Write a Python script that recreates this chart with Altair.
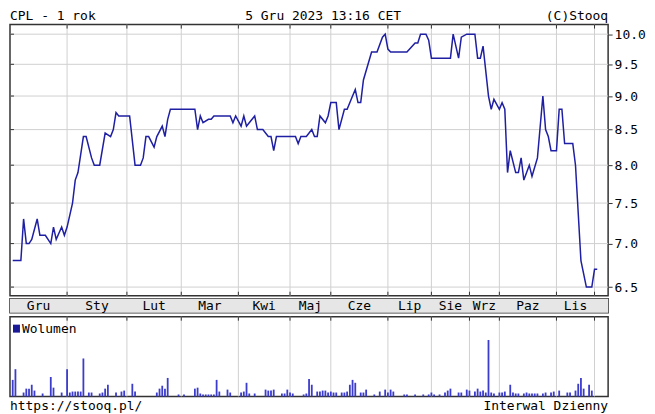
import altair as alt
import pandas as pd

# ---- texts ----
header_left = "CPL - 1 rok"
header_mid = "5 Gru 2023 13:16 CET"
header_right = "(C)Stooq"
footer_left = "https://stooq.pl/"
footer_right = "Interwal Dzienny"
legend_label = "Wolumen"

# ---- price series (session index of trading days, close price) ----
sessions = [0, 3, 4, 5, 6, 7, 9, 10, 12, 14, 15, 16, 18, 19, 20, 22, 23, 24, 26, 27,
            29, 30, 32, 34, 36, 37, 38, 39, 43, 45, 47, 48, 49, 50, 52, 53, 55, 56, 57, 58,
            67, 68, 69, 70, 72, 73, 74, 80, 81, 82, 84, 85, 86, 87, 89, 90, 92, 94, 95, 96,
            97, 104, 105, 106, 108, 110, 111, 112, 113, 115, 116, 117, 119, 120, 122, 123, 125, 126, 127, 128,
            129, 132, 134, 136, 137, 138, 139, 145, 146, 148, 149, 150, 152, 153, 154, 161, 162, 164, 165, 167,
            170, 171, 172, 173, 175, 176, 177, 179, 180, 181, 182, 183, 185, 186, 187, 188, 190, 191, 193, 195,
            196, 197, 198, 200, 201, 202, 203, 206, 207, 209, 211, 213, 214, 215]
prices = [6.8, 6.8, 7.3, 7.0, 7.0, 7.05, 7.3, 7.1, 7.1, 7.0, 7.2, 7.05, 7.2, 7.1, 7.2, 7.5, 7.8, 7.9, 8.4, 8.4,
          8.1, 8.0, 8.0, 8.45, 8.4, 8.5, 8.75, 8.7, 8.7, 8.0, 8.0, 8.1, 8.4, 8.4, 8.25, 8.4, 8.55, 8.4, 8.65, 8.8,
          8.8, 8.5, 8.7, 8.6, 8.65, 8.65, 8.7, 8.7, 8.6, 8.7, 8.55, 8.7, 8.55, 8.6, 8.7, 8.5, 8.5, 8.4, 8.4, 8.2,
          8.4, 8.4, 8.3, 8.4, 8.4, 8.5, 8.4, 8.4, 8.7, 8.6, 8.7, 8.9, 8.9, 8.5, 8.8, 8.8, 9.0, 9.1, 8.9, 8.9,
          9.25, 9.7, 9.7, 9.95, 10.0, 9.75, 9.7, 9.7, 9.75, 9.85, 9.85, 10.0, 10.0, 9.9, 9.6, 9.6, 10.0, 9.6, 9.95, 10.0,
          10.0, 9.6, 9.6, 9.8, 9.0, 8.8, 8.95, 8.8, 8.9, 8.8, 7.9, 8.2, 7.9, 7.9, 8.1, 7.8, 8.0, 7.85, 8.1, 9.0,
          8.5, 8.4, 8.2, 8.2, 8.8, 8.8, 8.3, 8.3, 8.0, 6.8, 6.5, 6.5, 6.7, 6.7]

# ---- volume (session index, volume) ----
vol_sessions = [0, 1, 4, 5, 6, 7, 8, 11, 14, 15, 18, 20, 21, 22, 23, 24, 25, 26, 28, 29,
                32, 33, 34, 35, 38, 40, 41, 44, 45, 53, 54, 55, 56, 57, 61, 63, 67, 68, 69, 70,
                71, 72, 73, 74, 75, 76, 79, 80, 84, 85, 86, 87, 89, 93, 94, 95, 96, 99, 100, 101,
                102, 103, 107, 108, 109, 110, 112, 113, 114, 115, 116, 117, 118, 119, 121, 122, 123, 124, 125, 126,
                128, 129, 130, 133, 135, 137, 138, 139, 140, 144, 145, 148, 151, 153, 154, 155, 157, 159, 160, 161,
                164, 165, 167, 168, 170, 171, 172, 173, 174, 175, 176, 177, 179, 180, 181, 183, 184, 185, 186, 188,
                189, 190, 191, 192, 193, 195, 196, 198, 199, 201, 204, 205, 207, 208, 209, 210, 212, 213]
volumes = [17, 28, 4, 8, 8, 12, 6, 3, 20, 9, 4, 28, 4, 5, 5, 5, 5, 39, 4, 4,
           3, 4, 8, 12, 4, 5, 6, 13, 5, 4, 8, 11, 8, 19, 2, 2, 8, 9, 3, 2,
           2, 2, 2, 2, 17, 5, 7, 4, 4, 5, 14, 3, 3, 7, 6, 6, 7, 3, 3, 7,
           4, 3, 2, 3, 18, 12, 5, 5, 6, 6, 4, 5, 4, 4, 4, 4, 5, 12, 17, 14,
           4, 4, 7, 2, 5, 7, 4, 7, 5, 2, 2, 2, 2, 2, 4, 2, 2, 4, 6, 8,
           4, 4, 7, 6, 5, 8, 5, 6, 4, 58, 4, 3, 4, 4, 5, 12, 4, 3, 3, 3,
           4, 3, 3, 3, 3, 3, 4, 4, 5, 6, 4, 4, 6, 13, 19, 8, 12, 6]

# ---- months: first session of each month, and labels ----
month_starts = [20, 42, 62, 83, 102, 117, 138, 154, 168, 179, 200, 214]
month_labels = ["Gru", "Sty", "Lut", "Mar", "Kwi", "Maj", "Cze", "Lip", "Sie", "Wrz", "Paz", "Lis"]
price_levels = [6.5, 7.0, 7.5, 8.0, 8.5, 9.0, 9.5, 10.0]

# ---- styling ----
W = 600
H1 = 272
H2 = 14
H3 = 80
FONT = "DejaVu Sans Mono"
FS = 13
GRID = "#d0d0d0"
DARK = "#333333"
LINE = "#1f1fa3"
VOLC = "#3b3bcc"
BAND = "#e6e6e6"

xscale = alt.Scale(domain=[-1, 219], nice=False, zero=False)
yscale = alt.Scale(type="log", domain=[6.405, 10.165], nice=False, zero=False)
yaxis = alt.Axis(orient="right", values=price_levels, format=".1f", grid=False, domain=False,
                 tickSize=4, tickColor=DARK, tickWidth=1, labelFont=FONT, labelFontSize=FS,
                 labelColor="black", labelPadding=2, title=None, labelFlush=False)

price_df = pd.DataFrame({"s": sessions, "p": prices})
bound_df = pd.DataFrame({"s": month_starts})
level_df = pd.DataFrame({"p": price_levels})
edges = [-1] + month_starts
mids = [(edges[i] + edges[i + 1]) / 2 for i in range(len(month_labels))]
label_df = pd.DataFrame({"m": month_labels, "s": mids})
vol_df = pd.DataFrame({"s": vol_sessions, "v": volumes})
one = pd.DataFrame({"a": [0]})

X = alt.X("s:Q", scale=xscale, axis=None)
Yp = alt.Y("p:Q", scale=yscale, axis=yaxis)

# ---- price panel ----
vgrid = alt.Chart(bound_df).mark_rule(color=GRID, strokeWidth=1).encode(x=X)
hgrid = alt.Chart(level_df).mark_rule(color=GRID, strokeWidth=1).encode(y=Yp)
top_ticks = alt.Chart(bound_df).mark_rule(color=DARK).encode(x=X, y=alt.value(0), y2=alt.value(4))
bot_ticks = alt.Chart(bound_df).mark_rule(color=DARK).encode(x=X, y=alt.value(H1 - 4), y2=alt.value(H1))
left_ticks = alt.Chart(level_df).mark_rule(color=DARK).encode(y=Yp, x=alt.value(0), x2=alt.value(4))
line = alt.Chart(price_df).mark_line(color=LINE, strokeWidth=1.5).encode(x=X, y=Yp)

def txt(t, x, y, align):
    return alt.Chart(one).mark_text(text=t, font=FONT, fontSize=FS, align=align,
                                    baseline="alphabetic", color="black").encode(
        x=alt.value(x), y=alt.value(y))

h1 = txt(header_left, 0, -5, "left")
h2 = txt(header_mid, 236, -5, "left")
h3 = txt(header_right, W, -5, "right")

price = alt.layer(vgrid, hgrid, top_ticks, bot_ticks, left_ticks, line, h1, h2, h3).properties(
    width=W, height=H1)

# ---- month band ----
band_bg = alt.Chart(one).mark_rect(color=BAND).encode(
    x=alt.value(0), x2=alt.value(W), y=alt.value(0), y2=alt.value(H2))
band_txt = alt.Chart(label_df).mark_text(font=FONT, fontSize=FS, baseline="alphabetic",
                                         color="black").encode(x=X, y=alt.value(11.5), text="m:N")
band = alt.layer(band_bg, band_txt).properties(width=W, height=H2)

# ---- volume panel ----
vgrid2 = alt.Chart(bound_df).mark_rule(color=GRID, strokeWidth=1).encode(x=X)
top_ticks2 = alt.Chart(bound_df).mark_rule(color=DARK).encode(x=X, y=alt.value(0), y2=alt.value(4))
bars = alt.Chart(vol_df).mark_rule(color=VOLC, strokeWidth=1.8).encode(
    x=X, y=alt.Y("v:Q", scale=alt.Scale(domain=[0, 82], nice=False), axis=None), y2=alt.value(H3))
leg_sq = alt.Chart(one).mark_rect(color="#1a1a96").encode(
    x=alt.value(3), x2=alt.value(10), y=alt.value(8), y2=alt.value(16))
leg_txt = txt(legend_label, 12, 16, "left")
f1 = txt(footer_left, 0, H3 + 14, "left")
f2 = txt(footer_right, W, H3 + 14, "right")
volume = alt.layer(vgrid2, top_ticks2, bars, leg_sq, leg_txt, f1, f2).properties(width=W, height=H3)

chart = alt.vconcat(price, band, volume, spacing=0).properties(
    padding={"left": 0, "top": 0, "right": 0, "bottom": 0}, background="white"
).configure_view(stroke=DARK, strokeWidth=1.5)

chart.save("out.html", embed_options={"renderer": "svg", "actions": False})
